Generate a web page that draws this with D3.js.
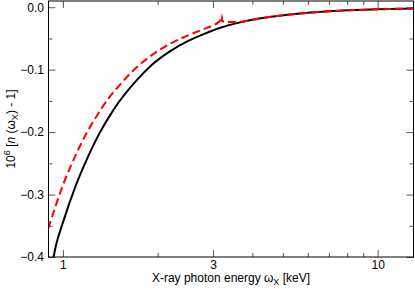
<!DOCTYPE html>
<html>
<head>
<meta charset="utf-8">
<script src="https://cdn.jsdelivr.net/npm/d3@7"></script>
<style>
  body { margin: 0; background: #fff; }
  text { font-family: "Liberation Sans", Arial, sans-serif; font-size: 12px; fill: #000; }
</style>
</head>
<body>
<svg id="chart" width="415" height="289"></svg>
<script>
// photon energy (keV) and 10^6 (n - 1)
const blackEnergy = [0.934, 0.95, 1.0, 1.1, 1.2, 1.3, 1.4, 1.5, 1.7, 1.9, 2.2, 2.5, 2.8, 3.2, 3.6, 4.2, 5, 6, 7, 8.5, 10, 13];
const blackValue = [-0.40, -0.382, -0.345, -0.285, -0.240, -0.204, -0.176, -0.153, -0.119, -0.094, -0.070, -0.054, -0.043, -0.032, -0.025, -0.018, -0.013, -0.009, -0.0065, -0.0045, -0.0033, -0.002];

const redEnergy = [0.898, 0.95, 1.0, 1.1, 1.2, 1.3, 1.4, 1.5, 1.7, 1.9, 2.2, 2.5, 2.8, 3.0, 3.1, 3.16, 3.19, 3.2, 3.202, 3.3, 3.6, 4.2, 5, 6, 7, 8.5, 10, 13];
const redValue = [-0.355, -0.317, -0.285, -0.236, -0.198, -0.169, -0.145, -0.127, -0.098, -0.078, -0.058, -0.045, -0.035, -0.029, -0.025, -0.021, -0.017, -0.013, -0.022, -0.0235, -0.0235, -0.018, -0.013, -0.009, -0.0065, -0.0045, -0.0033, -0.002];

const xMajorTicks = [1, 3, 10];
const xMinorTicks = [2, 4, 5, 6, 7, 8, 9];
const yMajorTicks = [-0.4, -0.3, -0.2, -0.1, 0.0];
const yMinorTicks = [-0.35, -0.25, -0.15, -0.05];

const svg = d3.select('#chart');
const plotLeft = 48.5, plotRight = 413.5, plotTop = 1, plotBottom = 257;

const x = d3.scaleLog().domain([0.9, 13]).range([plotLeft, plotRight]);
const y = d3.scaleLinear().domain([-0.4, 0.01]).range([plotBottom, plotTop]);

svg.append('clipPath').attr('id', 'clip')
  .append('rect').attr('x', plotLeft).attr('y', plotTop)
  .attr('width', plotRight - plotLeft).attr('height', plotBottom - plotTop);

const line = d3.line()
  .x(d => x(d[0]))
  .y(d => y(d[1]))
  .curve(d3.curveMonotoneX);

const plot = svg.append('g').attr('clip-path', 'url(#clip)');

plot.append('path')
  .datum(d3.zip(blackEnergy, blackValue))
  .attr('d', line)
  .attr('fill', 'none')
  .attr('stroke', '#000')
  .attr('stroke-width', 2);

plot.append('path')
  .datum(d3.zip(redEnergy, redValue))
  .attr('d', line)
  .attr('fill', 'none')
  .attr('stroke', '#ff0000')
  .attr('stroke-width', 2)
  .attr('stroke-dasharray', '8,4');

// ticks, all pointing inward
const fmt = d3.format('.1f');
const axes = [
  { axis: d3.axisBottom(x).tickValues(xMajorTicks).tickSize(-7), pos: `translate(0,${plotBottom})`, labels: 'x' },
  { axis: d3.axisBottom(x).tickValues(xMinorTicks).tickSize(-4), pos: `translate(0,${plotBottom})` },
  { axis: d3.axisTop(x).tickValues(xMajorTicks).tickSize(-7), pos: `translate(0,${plotTop})` },
  { axis: d3.axisTop(x).tickValues(xMinorTicks).tickSize(-4), pos: `translate(0,${plotTop})` },
  { axis: d3.axisLeft(y).tickValues(yMajorTicks).tickSize(-7), pos: `translate(${plotLeft},0)`, labels: 'y' },
  { axis: d3.axisLeft(y).tickValues(yMinorTicks).tickSize(-4), pos: `translate(${plotLeft},0)` },
  { axis: d3.axisRight(y).tickValues(yMajorTicks).tickSize(-7), pos: `translate(${plotRight},0)` },
  { axis: d3.axisRight(y).tickValues(yMinorTicks).tickSize(-4), pos: `translate(${plotRight},0)` }
];

axes.forEach(a => {
  const g = svg.append('g').attr('transform', a.pos).call(a.axis);
  g.select('.domain').remove();
  g.selectAll('line').attr('stroke', '#555');
  const t = g.selectAll('text').attr('font-family', null).attr('font-size', null).attr('fill', '#000');
  if (!a.labels) t.remove();
  else if (a.labels === 'x') t.attr('y', 3).attr('dy', '0.71em');
  else t.attr('x', -4.5).text(d => fmt(d));
});

svg.append('rect')
  .attr('x', plotLeft).attr('y', plotTop)
  .attr('width', plotRight - plotLeft).attr('height', plotBottom - plotTop)
  .attr('fill', 'none').attr('stroke', '#000').attr('stroke-width', 1);

// axis titles
const xt = svg.append('text').attr('x', (plotLeft + plotRight) / 2).attr('y', 282).attr('text-anchor', 'middle');
xt.append('tspan').text('X-ray photon energy ω');
xt.append('tspan').attr('dy', 3).attr('font-size', 9).text('X');
xt.append('tspan').attr('dy', -3).text(' [keV]');

const yt = svg.append('text').attr('transform', `translate(15,${(plotTop + plotBottom) / 2}) rotate(-90)`).attr('text-anchor', 'middle');
yt.append('tspan').text('10');
yt.append('tspan').attr('dy', -5).attr('font-size', 9).text('6');
yt.append('tspan').attr('dy', 5).text(' [');
yt.append('tspan').attr('font-style', 'italic').text('n');
yt.append('tspan').text(' (ω');
yt.append('tspan').attr('dy', 3).attr('font-size', 9).text('X');
yt.append('tspan').attr('dy', -3).text(') - 1]');
</script>
</body>
</html>
